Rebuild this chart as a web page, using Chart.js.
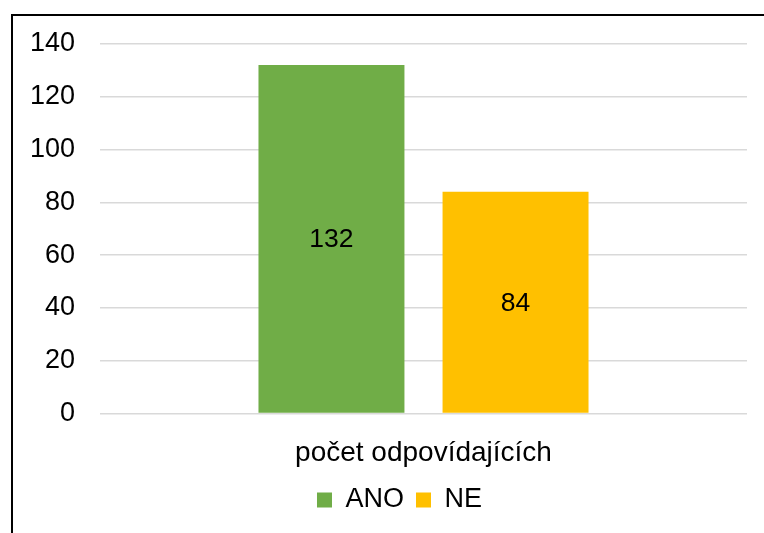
<!DOCTYPE html>
<html>
<head>
<meta charset="utf-8">
<script src="https://cdn.jsdelivr.net/npm/chart.js@4/dist/chart.umd.min.js"></script>
<style>
  html, body { margin: 0; padding: 0; background: #fff; overflow: hidden; }
  #wrap { position: relative; width: 764px; height: 533px; }
  #frame { position: absolute; left: 11px; top: 14px; width: 800px; height: 600px;
           border-left: 2px solid #000; border-top: 2px solid #000; }
  #chartCanvas { position: absolute; left: 0; top: 0; }
</style>
</head>
<body>
<div id="wrap">
  <div id="frame"></div>
  <canvas id="chartCanvas" width="764" height="533"></canvas>
</div>
<script>
"use strict";

// values
const categories = ['počet odpovídajících'];
const seriesNames = ['ANO', 'NE'];
const anoValues = [132];
const neValues = [84];
const yTicks = [0, 20, 40, 60, 80, 100, 120, 140];

const FONT = 'Liberation Sans, Arial, sans-serif';

// draws the value in the middle of each bar
const barValues = {
    id: 'barValues',
    afterDatasetsDraw(chart) {
        const ctx = chart.ctx;
        ctx.save();
        ctx.font = '26.5px ' + FONT;
        ctx.fillStyle = '#000';
        ctx.textAlign = 'center';
        ctx.textBaseline = 'middle';
        chart.data.datasets.forEach((ds, i) => {
            chart.getDatasetMeta(i).data.forEach((bar, j) => {
                ctx.fillText(String(ds.data[j]), bar.x, (bar.y + bar.base) / 2 + 1);
            });
        });
        ctx.restore();
    }
};

// the legend sits a bit right of the canvas centre in the original
const legendShift = {
    id: 'legendShift',
    afterLayout(chart) {
        if (chart.legend) {
            chart.legend.left += 20;
            chart.legend.right += 20;
        }
    }
};

const ctx = document.getElementById('chartCanvas');

new Chart(ctx, {
    type: 'bar',
    data: {
        labels: categories,
        datasets: [{
            label: seriesNames[0],
            data: anoValues,
            backgroundColor: '#70AD47'
        }, {
            label: seriesNames[1],
            data: neValues,
            backgroundColor: '#FFC000'
        }]
    },
    options: {
        responsive: false,
        animation: false,
        events: [],
        categoryPercentage: 0.569,
        barPercentage: 0.793,
        layout: { padding: { left: 12, right: 17, top: 44, bottom: 9.5 } },
        scales: {
            x: {
                grid: { display: false },
                border: { display: false },
                ticks: { color: '#000', padding: 15, font: { family: FONT, size: 28 } },
                afterFit(scale) { scale.height = 61; }
            },
            y: {
                min: yTicks[0],
                max: yTicks[yTicks.length - 1],
                grid: { color: '#D9D9D9', lineWidth: 1.5, drawTicks: false },
                border: { display: false },
                ticks: {
                    stepSize: yTicks[1] - yTicks[0],
                    color: '#000',
                    padding: 25,
                    font: { family: FONT, size: 27 }
                },
                afterFit(scale) { scale.width = 88; }
            }
        },
        plugins: {
            legend: {
                position: 'bottom',
                labels: {
                    color: '#000',
                    boxWidth: 15,
                    boxHeight: 15,
                    padding: 12,
                    font: { family: FONT, size: 27 }
                }
            },
            tooltip: { enabled: false }
        }
    },
    plugins: [barValues, legendShift]
});
</script>
</body>
</html>
